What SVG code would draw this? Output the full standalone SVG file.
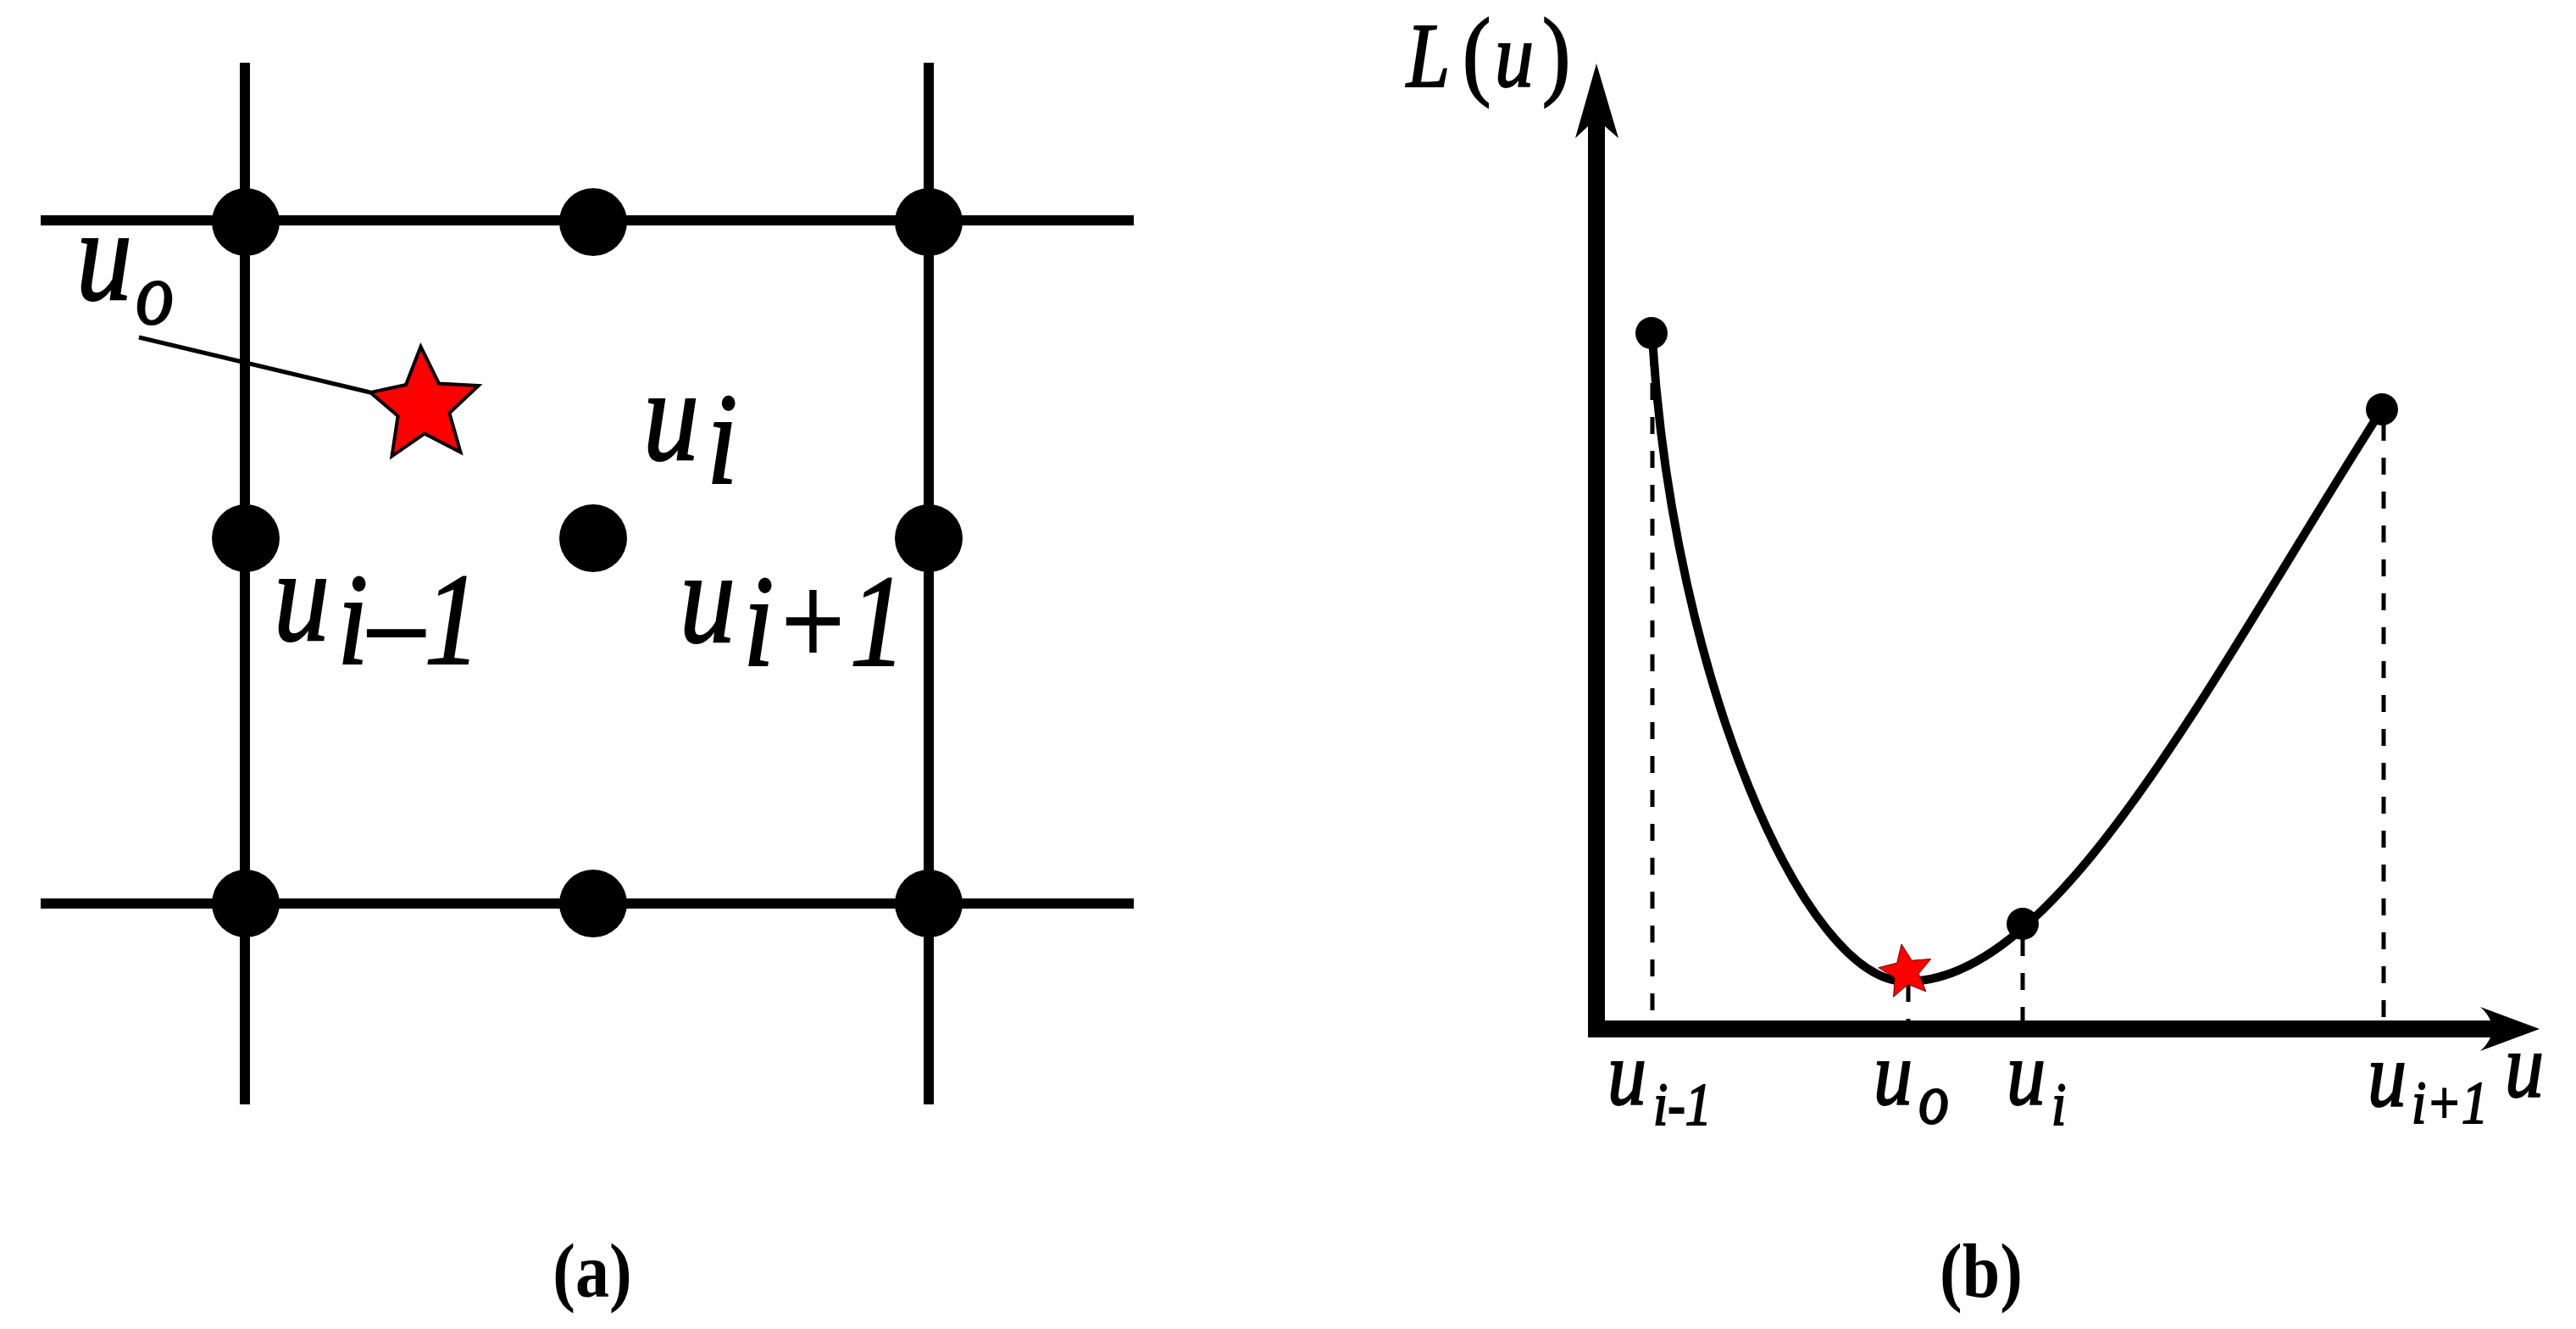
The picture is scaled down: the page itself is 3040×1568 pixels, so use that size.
<svg xmlns="http://www.w3.org/2000/svg" width="3040" height="1568" viewBox="0 0 3040 1568">
<style>
.grid{stroke:#000;stroke-width:12;fill:none}
.lead{stroke:#000;stroke-width:5;fill:none}
.curve{stroke:#000;stroke-width:10;fill:none}
.dash{stroke:#000;stroke-width:5;stroke-dasharray:20 20;fill:none}
.dot{fill:#000}
.lbl{font-family:"Liberation Serif","Times New Roman",serif;font-style:italic;fill:#000;stroke:#000;stroke-width:1.8}
.up{font-style:normal}
.cap{font-family:"Liberation Serif","Times New Roman",serif;font-weight:bold;fill:#000}
</style>
<rect width="3040" height="1568" fill="#fff"/>
<g id="connectors">
  <line class="grid" x1="48" y1="260" x2="1338" y2="260"/>
  <line class="grid" x1="48" y1="1066" x2="1338" y2="1066"/>
  <line class="grid" x1="289" y1="74" x2="289" y2="1303"/>
  <line class="grid" x1="1096" y1="74" x2="1096" y2="1303"/>
  <line class="lead" x1="164" y1="398" x2="437" y2="463"/>
  <line class="dash" x1="1950" y1="412" x2="1950" y2="1204"/>
  <line class="dash" x1="2252" y1="1162" x2="2252" y2="1204"/>
  <line class="dash" x1="2387" y1="1108" x2="2387" y2="1204"/>
  <line class="dash" x1="2813" y1="500" x2="2813" y2="1200"/>
  <path class="curve" d="M1950,400 C1975,800 2130,1160 2250,1158 C2430,1158 2611,796 2811,483"/>
  <path id="y-axis" d="M1884,75 L1910,163 L1894,149 L1894,1224 L1874,1224 L1874,149 L1859,163 Z" fill="#000"/>
  <path id="x-axis" d="M1874,1204 L2939,1204 Q2935,1195 2927,1188 L2997,1214 L2927,1240 Q2935,1233 2939,1224 L1874,1224 Z" fill="#000"/>
</g>
<g id="grid-nodes">
  <g id="a-n11"><circle class="dot" cx="290" cy="262" r="40"/></g>
  <g id="a-n12"><circle class="dot" cx="700" cy="262" r="40"/></g>
  <g id="a-n13"><circle class="dot" cx="1096" cy="262" r="40"/></g>
  <g id="a-n21"><circle class="dot" cx="290" cy="635" r="40"/></g>
  <g id="a-n22"><circle class="dot" cx="700" cy="635" r="40"/></g>
  <g id="a-n23"><circle class="dot" cx="1096" cy="635" r="40"/></g>
  <g id="a-n31"><circle class="dot" cx="290" cy="1066" r="40"/></g>
  <g id="a-n32"><circle class="dot" cx="700" cy="1066" r="40"/></g>
  <g id="a-n33"><circle class="dot" cx="1096" cy="1066" r="40"/></g>
  <g id="a-star"><polygon points="496.5,409 518,452.5 564.7,455 530.4,487.3 543.5,533.5 501,511.7 462.5,538.3 469.6,490.7 437,463 479,454" fill="#f00" stroke="#000" stroke-width="4" stroke-linejoin="miter"/></g>
</g>
<g id="a-labels">
  <text class="lbl" font-size="132" transform="translate(0,353) scale(1,1.17)"><tspan x="90" y="0">u</tspan><tspan x="160" y="25" font-size="90">o</tspan></text>
  <text class="lbl" font-size="132" transform="translate(0,542) scale(1,1.17)"><tspan x="759" y="0">u</tspan><tspan x="834" y="24">i</tspan></text>
  <text class="lbl" font-size="132" transform="translate(0,755) scale(1,1.17)"><tspan x="323" y="0">u</tspan><tspan x="398" y="24">i–1</tspan></text>
  <text class="lbl" font-size="132" transform="translate(0,757) scale(1,1.17)"><tspan x="802" y="0">u</tspan><tspan x="877" y="24">i+1</tspan></text>
</g>
<g id="plot-nodes">
  <g id="b-p1"><circle class="dot" cx="1949" cy="393" r="19"/></g>
  <g id="b-p2"><circle class="dot" cx="2387" cy="1090" r="19"/></g>
  <g id="b-p3"><circle class="dot" cx="2811" cy="483" r="19"/></g>
  <g id="b-star"><polygon points="2244,1114 2256.1,1133.2 2278.7,1131.4 2264.2,1148.8 2272.9,1169.8 2251.8,1161.4 2234.6,1176.1 2236.1,1153.5 2216.8,1141.7 2238.7,1136.1" fill="#f00" stroke="#600" stroke-width="1"/></g>
</g>
<g id="b-labels">
  <text class="lbl" font-size="92" transform="translate(0,102) scale(1,1.17)"><tspan x="1660" y="0">L</tspan><tspan class="up" x="1726" y="0" font-size="100">(</tspan><tspan x="1764" y="0">u</tspan><tspan class="up" x="1820" y="0" font-size="100">)</tspan></text>
  <text class="lbl" font-size="92" transform="translate(0,1303) scale(1,1.17)"><tspan x="1897" y="0">u</tspan><tspan x="1951" y="20.5" font-size="62">i-1</tspan></text>
  <text class="lbl" font-size="92" transform="translate(0,1303) scale(1,1.17)"><tspan x="2211" y="0">u</tspan><tspan x="2264" y="19" font-size="72">o</tspan></text>
  <text class="lbl" font-size="92" transform="translate(0,1303) scale(1,1.17)"><tspan x="2368" y="0">u</tspan><tspan x="2421" y="20.5" font-size="62">i</tspan></text>
  <text class="lbl" font-size="92" transform="translate(0,1305) scale(1,1.17)"><tspan x="2794" y="0">u</tspan><tspan x="2846" y="17" font-size="62">i+1</tspan></text>
  <text class="lbl" font-size="92" transform="translate(0,1294) scale(1,1.17)" x="2956" y="0">u</text>
</g>
<g id="captions">
  <text class="cap" font-size="80" text-anchor="middle" transform="translate(699,1530) scale(1,1.15)">(a)</text>
  <text class="cap" font-size="80" text-anchor="middle" transform="translate(2338,1530) scale(1,1.15)">(b)</text>
</g>
</svg>
